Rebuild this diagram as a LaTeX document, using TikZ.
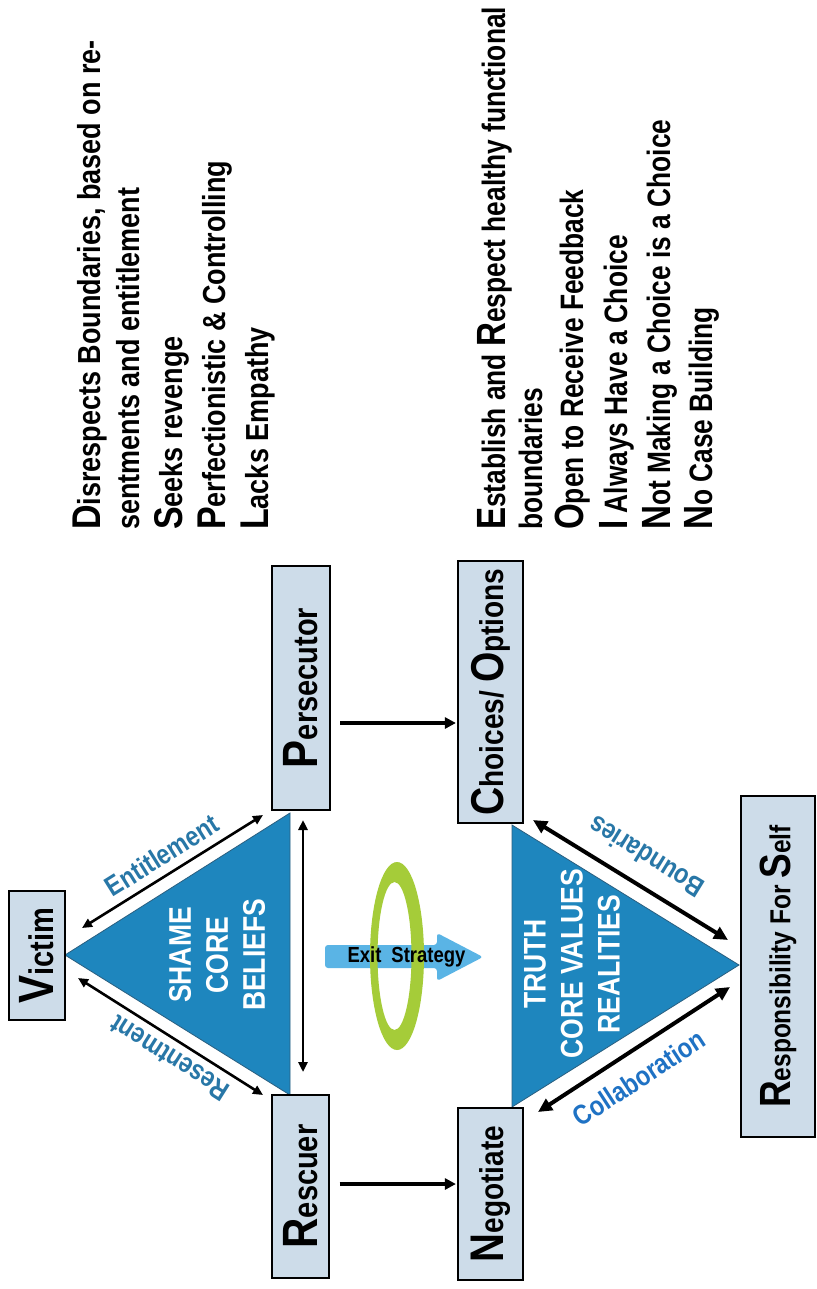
\documentclass[tikz,border=0pt]{standalone}
\usepackage{fontspec}
\usepackage{graphicx}
\setmainfont{Liberation Sans}
\usetikzlibrary{arrows.meta}
\definecolor{boxfill}{HTML}{CDDCE9}
\definecolor{trifill}{HTML}{1E86BE}
\definecolor{triedge}{HTML}{2A5F80}
\definecolor{lblblue}{HTML}{2877A7}
\definecolor{collab}{HTML}{1F72C4}
\definecolor{exitblue}{HTML}{5AB4E5}
\definecolor{ringgreen}{HTML}{A5CC39}
\newcommand\bigini[2]{{\fontsize{#1}{#1}\selectfont #2}}
\newcommand\tall[1]{\scalebox{1}[1.18]{#1}}
\newcommand\tallL[1]{\scalebox{0.975}[1.2]{#1}}
\tikzset{
 boxnode/.style={draw=black, line width=2.2pt, fill=boxfill, rotate=90, inner sep=0pt, text=black,
   font=\fontsize{29}{29}\selectfont\bfseries},
 tri/.style={fill=trifill, draw=triedge, line width=0.8pt},
 tritext/.style={rotate=90, text=white, align=center, inner sep=0pt, font=\fontsize{26.5}{37}\selectfont\bfseries},
 lbl/.style={text=lblblue, inner sep=0pt, font=\fontsize{23.5}{23.5}\selectfont\bfseries},
 dbl/.style={line width=2.6pt, {Triangle[length=10pt,width=9pt]}-{Triangle[length=10pt,width=9pt]}},
 dblthick/.style={line width=4pt, {Triangle[length=14pt,width=13pt]}-{Triangle[length=14pt,width=13pt]}},
 flow/.style={line width=3.2pt, -{Triangle[length=11pt,width=11pt]}},
 listline/.style={rotate=90, anchor=base west, inner sep=0pt, text=black, font=\fontsize{27}{27}\selectfont\bfseries},
}
\begin{document}
\begin{tikzpicture}[x=1pt,y=-1pt]
\useasboundingbox (0,0) rectangle (816,1289);
\fill[white] (0,0) rectangle (816,1289);

% triangles
\filldraw[tri] (65,955) -- (290,813) -- (290,1095) -- cycle;
\filldraw[tri] (512,825) -- (512,1107) -- (739,965) -- cycle;
\node[tritext] (shame) at (217,955) {\tall{SHAME}\\\tall{CORE}\\\tall{BELIEFS}};
\node[tritext] (truth) at (572,964) {\tall{TRUTH}\\\tall{CORE VALUES}\\\tall{REALITIES}};

% boxes
\node[boxnode, minimum width=129pt, minimum height=56pt] (victim) at (37,955.5) {\tall{\bigini{42}{V}ictim}};
\node[boxnode, minimum width=244pt, minimum height=58pt] (pers) at (301,688) {\tall{\bigini{42}{P}ersecutor}};
\node[boxnode, minimum width=183pt, minimum height=57pt] (resc) at (300.5,1186.5) {\tall{\bigini{42}{R}escuer}};
\node[boxnode, minimum width=262pt, minimum height=65pt, font=\fontsize{28}{28}\selectfont\bfseries] (choices) at (490.5,692) {\tall{\bigini{39}{C}hoices/ \bigini{39}{O}ptions}};
\node[boxnode, minimum width=172pt, minimum height=65pt, font=\fontsize{28}{28}\selectfont\bfseries] (nego) at (490.5,1194) {\tall{\bigini{40}{N}egotiate}};
\node[boxnode, minimum width=341pt, minimum height=74pt, font=\fontsize{24.5}{24.5}\selectfont\bfseries] (resp) at (778,966.5) {\tall{\bigini{37}{R}esponsibility For \bigini{37}{S}elf}};

% triangle-side arrows
\coordinate (e1) at (82,928);  \coordinate (e2) at (263,815);
\coordinate (r1) at (78,978);  \coordinate (r2) at (263,1095);
\coordinate (v1) at (303,820); \coordinate (v2) at (303,1072);
\coordinate (b1) at (533,820); \coordinate (b2) at (728,940);
\coordinate (c1) at (538,1112); \coordinate (c2) at (730,987);
\draw[dbl] (e1) -- (e2);
\draw[dbl] (r1) -- (r2);
\draw[dbl] (v1) -- (v2);
\draw[dblthick] (b1) -- (b2);
\draw[dblthick] (c1) -- (c2);

\node[lbl, rotate=32] (lent) at (162,855) {\tall{Entitlement}};
\node[lbl, rotate=147.7] (lres) at (170,1058) {\tall{Resentment}};
\node[lbl, rotate=148.4] (lbou) at (646,857) {\tall{Boundaries}};
\node[lbl, rotate=33, text=collab] (lcol) at (639,1078) {\tall{Collaboration}};

% horizontal flows
\coordinate (ya) at (0,723);
\coordinate (yb) at (0,1184);
\draw[flow, shorten <=9pt, shorten >=1pt] (pers.south |- ya) -- (choices.north |- ya);
\draw[flow, shorten <=9.5pt, shorten >=1pt] (resc.south |- yb) -- (nego.north |- yb);

% exit strategy
\fill[exitblue, rounded corners=3pt] (325,945) -- (437,945) -- (437,933) -- (483,957) -- (437,981) -- (437,968) -- (325,968) -- cycle;
\fill[ringgreen, even odd rule] (397,956) ellipse [x radius=27, y radius=94] (394.5,956) ellipse [x radius=17, y radius=74];
\node[inner sep=0pt, font=\fontsize{18.5}{18.5}\selectfont\bfseries] (exit) at (406.5,957) {\tall{Exit\hspace{10pt}Strategy}};

% upper list
\node[listline] (u1) at (100,530) {\tall{\bigini{34}{D}isrespects Boundaries, based on re-}};
\node[listline] (u2) at (139,530) {\tall{sentments and entitlement}};
\node[listline] (u3) at (182,530) {\tall{\bigini{34}{S}eeks revenge}};
\node[listline] (u4) at (225,530) {\tall{\bigini{34}{P}erfectionistic \& Controlling}};
\node[listline] (u5) at (268,530) {\tall{\bigini{34}{L}acks Empathy}};

% lower list
\node[listline] (l1) at (505,530) {\tallL{\bigini{34}{E}stablish and \bigini{34}{R}espect healthy functional}};
\node[listline] (l2) at (542,530) {\tallL{boundaries}};
\node[listline] (l3) at (583,530) {\tallL{\bigini{34}{O}pen to Receive Feedback}};
\node[listline] (l4) at (627,530) {\tallL{\bigini{34}{I} Always Have a Choice}};
\node[listline] (l5) at (670,530) {\tallL{\bigini{34}{N}ot Making a Choice is a Choice}};
\node[listline] (l6) at (712,530) {\tallL{\bigini{34}{N}o Case Building}};
\end{tikzpicture}
\end{document}
